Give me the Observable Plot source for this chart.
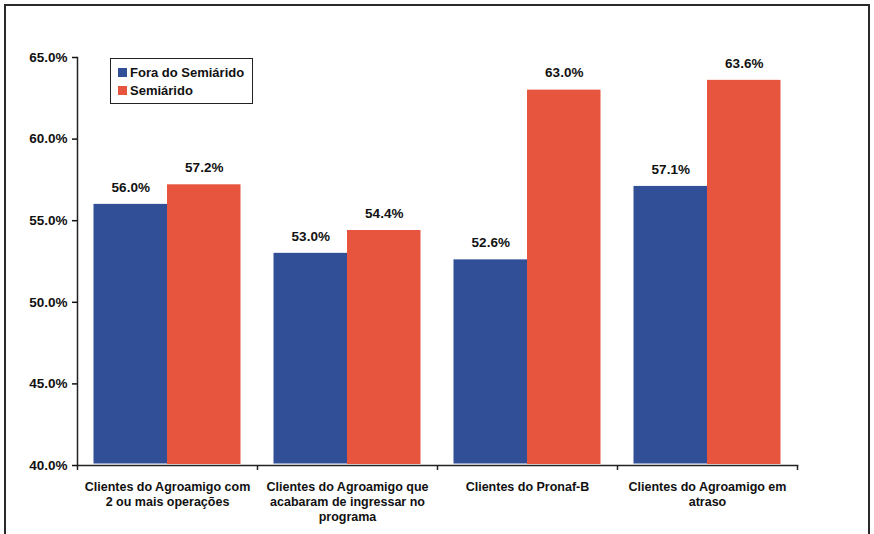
<!DOCTYPE html>
<html>
<head>
<meta charset="utf-8">
<script src="https://cdn.jsdelivr.net/npm/d3@7"></script>
<script src="https://cdn.jsdelivr.net/npm/@observablehq/plot@0.6"></script>
<style>
  html, body { margin: 0; padding: 0; background: #fff; overflow: hidden; width: 874px; height: 534px; }
  body { position: relative; font-family: "Liberation Sans", Arial, sans-serif; }
  #frame { position: absolute; left: 4px; top: 4px; width: 862px; height: 600px; border: 2px solid #2a2a2a; box-sizing: content-box; }
  #chart { position: absolute; left: 0; top: 0; }
  #legend { position: absolute; left: 110px; top: 58px; width: 141px; height: 44px; border: 1px solid #222; background: #fff;
            font: bold 13px "Liberation Sans", Arial, sans-serif; color: #111; }
  #legend .row { position: absolute; left: 7px; display: flex; align-items: center; height: 16px; }
  #legend .sw { width: 9px; height: 9px; margin-right: 3px; }
</style>
</head>
<body>
<div id="frame"></div>
<div id="chart"></div>
<div id="legend"></div>
<script>
// ---- data ----
const categories = [
  "Clientes do Agroamigo com 2 ou mais operações",
  "Clientes do Agroamigo que acabaram de ingressar no programa",
  "Clientes do Pronaf-B",
  "Clientes do Agroamigo em atraso"
];
const tickLabels = [
  "Clientes do Agroamigo com\n2 ou mais operações",
  "Clientes do Agroamigo que\nacabaram de ingressar no\nprograma",
  "Clientes do Pronaf-B",
  "Clientes do Agroamigo em\natraso"
];
const seriesNames = ["Fora do Semiárido", "Semiárido"];
const foraValues = [56.0, 53.0, 52.6, 57.1];
const semiValues = [57.2, 54.4, 63.0, 63.6];
const yTicks = [40, 45, 50, 55, 60, 65];
const colors = ["#304F97", "#E8553F"];

const fora = categories.map((c, i) => ({cat: c, value: foraValues[i], series: seriesNames[0]}));
const semi = categories.map((c, i) => ({cat: c, value: semiValues[i], series: seriesNames[1]}));

const fmt = d => d.toFixed(1) + "%";
const txt = "#111";

const chart = Plot.plot({
  width: 874,
  height: 534,
  marginTop: 57,
  marginBottom: 69,
  marginLeft: 77,
  marginRight: 77,
  style: {fontFamily: "'Liberation Sans', Arial, sans-serif", background: "transparent", overflow: "visible"},
  x: {domain: categories, padding: 0, axis: null, label: null},
  y: {domain: [40, 65], axis: null, label: null},
  marks: [
    Plot.barY(fora, {x: "cat", y1: 40, y2: "value", fill: colors[0], insetLeft: 16.5, insetRight: 90, insetBottom: 1.5}),
    Plot.barY(semi, {x: "cat", y1: 40, y2: "value", fill: colors[1], insetLeft: 90, insetRight: 16.5, insetBottom: 1}),
    Plot.text(fora, {x: "cat", y: "value", text: d => fmt(d.value), dx: -36.75, dy: -17, fontWeight: "bold", fontSize: 13.5, fill: txt}),
    Plot.text(semi, {x: "cat", y: "value", text: d => fmt(d.value), dx: 36.75, dy: -17, fontWeight: "bold", fontSize: 13.5, fill: txt}),
    Plot.frame({anchor: "left", stroke: "#222", strokeWidth: 1.5}),
    Plot.frame({anchor: "bottom", stroke: "#222", strokeWidth: 1.5}),
    Plot.axisY({ticks: yTicks, tickFormat: fmt, tickSize: 5, tickPadding: 5, fontSize: 13.5, fontWeight: "bold", color: txt, strokeWidth: 1.5, label: null}),
    Plot.axisX({ticks: categories, tickFormat: () => "", tickSize: 5, dx: -90, strokeWidth: 1.5, color: "#222", label: null}),
    Plot.axisX({ticks: categories.slice(-1), tickFormat: () => "", tickSize: 5, dx: 90, strokeWidth: 1.5, color: "#222", label: null}),
    Plot.axisX({ticks: categories, tickFormat: d => tickLabels[categories.indexOf(d)], tickSize: 0, tickPadding: 15,
                fontSize: 12.5, fontWeight: "bold", lineHeight: 1.2, color: txt, lineAnchor: "top", label: null})
  ]
});
document.getElementById("chart").appendChild(chart);

// legend
const legend = document.getElementById("legend");
seriesNames.forEach((name, i) => {
  const row = document.createElement("div");
  row.className = "row";
  row.style.top = (5 + i * 18) + "px";
  const sw = document.createElement("span");
  sw.className = "sw";
  sw.style.background = colors[i];
  const t = document.createElement("span");
  t.textContent = name;
  row.appendChild(sw);
  row.appendChild(t);
  legend.appendChild(row);
});
</script>
</body>
</html>
